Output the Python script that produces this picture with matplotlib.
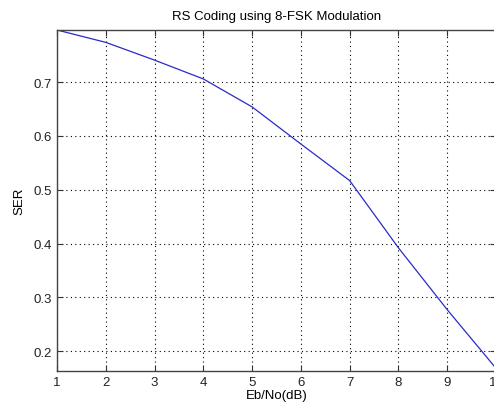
import matplotlib
matplotlib.use("Agg")
import matplotlib.pyplot as plt

# data
ebno_db = [1, 2, 3, 4, 5, 6, 7, 8, 9, 10]
ser = [0.797, 0.774, 0.741, 0.706, 0.654, 0.585, 0.517, 0.392, 0.277, 0.168]
x_ticks = [1, 2, 3, 4, 5, 6, 7, 8, 9, 10]
y_ticks = [0.2, 0.3, 0.4, 0.5, 0.6, 0.7]

plt.rcParams['font.family'] = ['Liberation Sans', 'DejaVu Sans']
plt.rcParams['font.size'] = 9

fig = plt.figure(figsize=(4.94, 4.10), dpi=100)
ax = fig.add_axes([57 / 494, 38 / 410, 439 / 494, 341 / 410])

ax.plot(ebno_db, ser, color="#2a2ac8", linewidth=0.9)
ax.set_xlim(1, 10)
ax.set_ylim(0.163, 0.797)
ax.set_xticks(x_ticks)
ax.set_yticks(y_ticks)
ax.set_yticklabels(["0.2", "0.3", "0.4", "0.5", "0.6", "0.7"])
ax.grid(True, linestyle=(0, (1, 3)), color="black", linewidth=0.8)
ax.tick_params(direction="in", top=True, right=True, length=4, colors="#333333",
               labelcolor="#222222", labelsize=9.5)
for s in ax.spines.values():
    s.set_color("#444444")
    s.set_linewidth(1.0)

ax.set_xlabel("Eb/No(dB)", fontsize=9.5, labelpad=1)
ax.set_ylabel("SER", fontsize=9.5, labelpad=6)
ax.set_title("RS Coding using 8-FSK Modulation", fontsize=9.5, pad=8)

fig.savefig("out.png", dpi=100)
